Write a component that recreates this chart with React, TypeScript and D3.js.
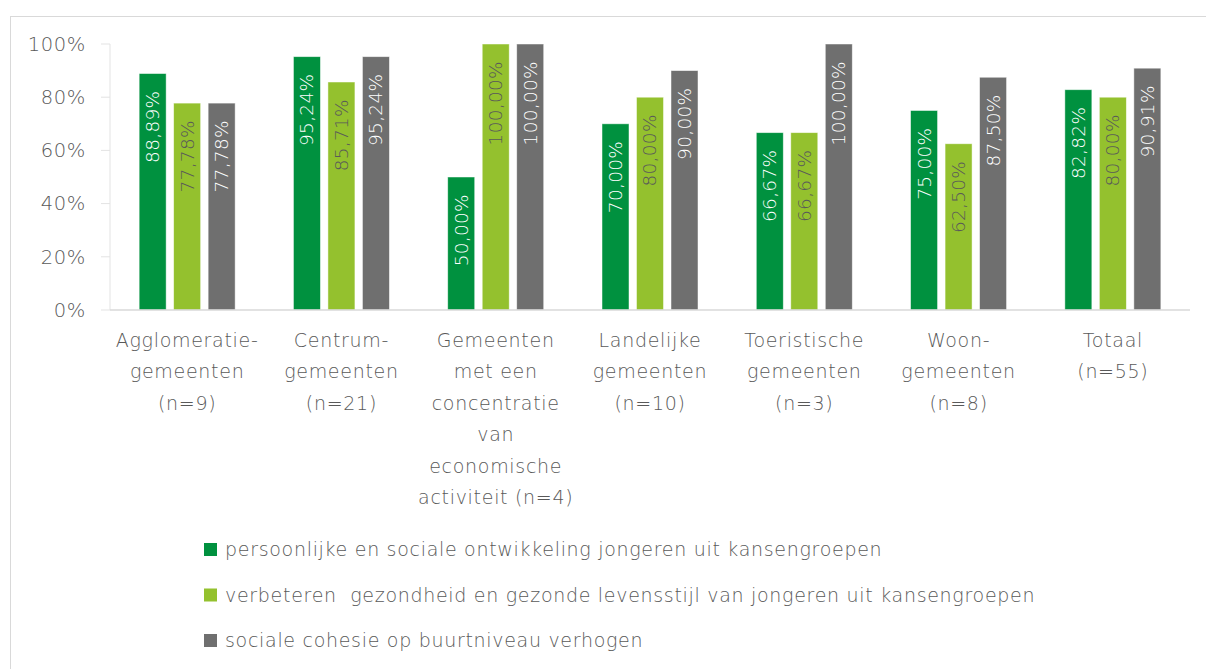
import React from "react";
import * as d3 from "d3";

const categories: string[][] = [
  ["Agglomeratie-", "gemeenten", "(n=9)"],
  ["Centrum-", "gemeenten", "(n=21)"],
  ["Gemeenten", "met een", "concentratie", "van", "economische", "activiteit (n=4)"],
  ["Landelijke", "gemeenten", "(n=10)"],
  ["Toeristische", "gemeenten", "(n=3)"],
  ["Woon-", "gemeenten", "(n=8)"],
  ["Totaal", "(n=55)"],
];
const seriesNames = [
  "persoonlijke en sociale ontwikkeling jongeren uit kansengroepen",
  "verbeteren  gezondheid en gezonde levensstijl van jongeren uit kansengroepen",
  "sociale cohesie op buurtniveau verhogen",
];
const s1 = [88.89, 95.24, 50.0, 70.0, 66.67, 75.0, 82.82];
const s2 = [77.78, 85.71, 100.0, 80.0, 66.67, 62.5, 80.0];
const s3 = [77.78, 95.24, 100.0, 90.0, 100.0, 87.5, 90.91];
const yTicks = [0, 20, 40, 60, 80, 100];

const colors = ["#00913F", "#94C12E", "#6F6F6F"];
const labelColors = ["#ffffff", "#595959", "#ffffff"];
const textColor = "#595959";
const font = "'DejaVu Sans', 'Noto Sans', sans-serif";

export default function App() {
  const W = 1206, H = 669;
  const left = 110, right = 1190, top = 44, bottom = 310;
  const series = [s1, s2, s3];
  const x = d3.scaleBand<number>().domain(d3.range(categories.length)).range([left, right]).paddingInner(0).paddingOuter(0);
  const y = d3.scaleLinear().domain([0, 100]).range([bottom, top]);
  const barW = 27, gap = 7.5;
  const fmt = (v: number) => v.toFixed(2).replace(".", ",") + "%";

  return (
    <svg width={W} height={H} style={{ position: "absolute", left: 0, top: 0, background: "#fff" }} fontFamily={font} fontWeight={300}>
      <rect x={10.5} y={16.5} width={W} height={H} fill="none" stroke="#d9d9d9" strokeWidth={1} />
      {/* y axis */}
      <line x1={left} x2={left} y1={top} y2={bottom} stroke="#e3e3e3" />
      {yTicks.map((t) => (
        <g key={t}>
          <line x1={left - 9} x2={left} y1={y(t)} y2={y(t)} stroke="#e3e3e3" />
          <text x={86} y={y(t)} dy="0.35em" textAnchor="end" fontSize={19.5} letterSpacing={0.6} fill={textColor}>{t}%</text>
        </g>
      ))}
      {/* bars */}
      {categories.map((c, i) => {
        const cx = (x(i) as number) + x.bandwidth() / 2;
        return (
          <g key={i}>
            {series.map((s, k) => {
              const bx = cx + (k - 1) * (barW + gap) - barW / 2;
              const v = s[i];
              return (
                <g key={k}>
                  <rect x={bx} y={y(v)} width={barW} height={bottom - y(v)} fill={colors[k]} stroke="#ffffff" strokeOpacity={0.6} strokeWidth={0.8} />
                  <text transform={`translate(${bx + barW / 2},${y(v) + 17}) rotate(-90)`} textAnchor="end" dy="0.35em" fontSize={18.5} letterSpacing={0.3} fill={labelColors[k]}>{fmt(v)}</text>
                </g>
              );
            })}
            {c.map((line, j) => (
              <text key={j} x={cx} y={340 + j * 31.5} dy="0.35em" textAnchor="middle" fontSize={19} letterSpacing={0.7} fill={textColor}>{line}</text>
            ))}
          </g>
        );
      })}
      <line x1={left} x2={right} y1={bottom} y2={bottom} stroke="#d9d9d9" strokeWidth={1.5} />
      {/* legend */}
      {seriesNames.map((n, k) => (
        <g key={k}>
          <rect x={204} y={543 + k * 45.5} width={13} height={13} fill={colors[k]} />
          <text x={225} y={549.5 + k * 45.5} dy="0.35em" fontSize={19} letterSpacing={0.7} fill={textColor} style={{ whiteSpace: "pre" }}>{n}</text>
        </g>
      ))}
    </svg>
  );
}
